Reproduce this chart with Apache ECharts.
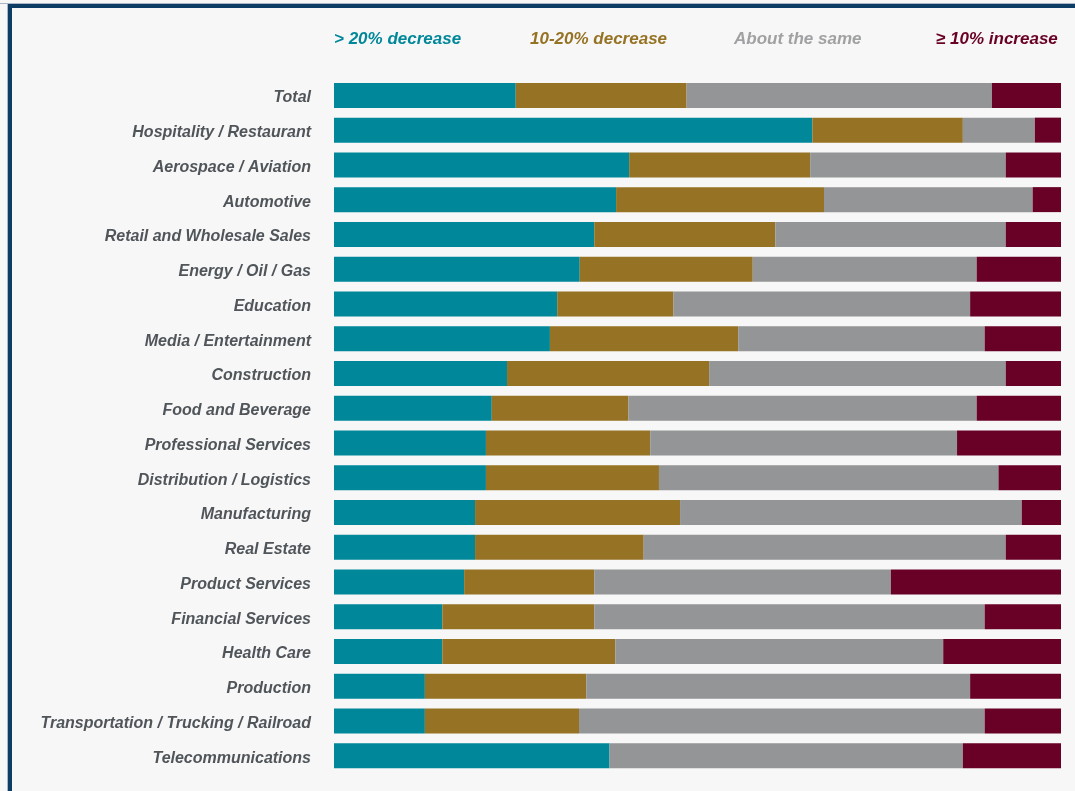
<!DOCTYPE html>
<html>
<head>
<meta charset="utf-8">
<script src="https://cdn.jsdelivr.net/npm/echarts@6/dist/echarts.min.js"></script>
<style>
html,body{margin:0;padding:0;background:#f7f7f7;}
#chart{width:1075px;height:791px;}
</style>
</head>
<body>
<div id="chart"></div>
<script>
const categories = [
  "Total",
  "Hospitality / Restaurant",
  "Aerospace / Aviation",
  "Automotive",
  "Retail and Wholesale Sales",
  "Energy / Oil / Gas",
  "Education",
  "Media / Entertainment",
  "Construction",
  "Food and Beverage",
  "Professional Services",
  "Distribution / Logistics",
  "Manufacturing",
  "Real Estate",
  "Product Services",
  "Financial Services",
  "Health Care",
  "Production",
  "Transportation / Trucking / Railroad",
  "Telecommunications"
];
const seriesNames = ["> 20% decrease", "10-20% decrease", "About the same", "\u2265 10% increase"];
const decreaseOver20 = [25.0, 65.8, 40.6, 38.8, 35.8, 33.8, 30.7, 29.7, 23.8, 21.7, 20.9, 20.9, 19.4, 19.4, 17.9, 14.9, 14.9, 12.5, 12.5, 37.9];
const decrease10to20 = [23.5, 20.7, 24.9, 28.6, 24.9, 23.8, 16.0, 25.9, 27.8, 18.8, 22.6, 23.8, 28.2, 23.2, 17.9, 20.9, 23.8, 22.2, 21.2, 0];
const aboutSame      = [42.0, 9.9, 26.9, 28.7, 31.7, 30.8, 40.8, 33.9, 40.8, 47.9, 42.2, 46.7, 47.0, 49.8, 40.8, 53.7, 45.1, 52.8, 55.8, 48.6];
const increase10     = [9.5, 3.6, 7.6, 3.9, 7.6, 11.6, 12.5, 10.5, 7.6, 11.6, 14.3, 8.6, 5.4, 7.6, 23.4, 10.5, 16.2, 12.5, 10.5, 13.5];

const colors = ["#008799", "#967324", "#949596", "#690026"];
const legendColors = ["#008799", "#967324", "#a0a1a3", "#690026"];
const values = [decreaseOver20, decrease10to20, aboutSame, increase10];
const legendLefts = [334, 530, 734, 936];

const chart = echarts.init(document.getElementById('chart'));
const legendFont = "'Liberation Sans', Arial, sans-serif";

const option = {
  backgroundColor: '#f7f7f7',
  animation: false,
  color: colors,
  grid: { left: 334, right: 14, top: 78, bottom: 18, containLabel: false },
  xAxis: { type: 'value', min: 0, max: 100, show: false },
  yAxis: {
    type: 'category',
    data: categories,
    inverse: true,
    axisLine: { show: false },
    axisTick: { show: false },
    splitLine: { show: false },
    axisLabel: {
      margin: 23,
      color: '#50555a',
      fontSize: 16,
      fontWeight: 'bold',
      fontStyle: 'italic',
      fontFamily: "'Liberation Sans', Arial, sans-serif",
      verticalAlign: 'top',
      lineHeight: 5
    }
  },
  legend: seriesNames.map((n, i) => ({
    data: [n],
    left: legendLefts[i],
    top: 31,
    itemWidth: 0,
    itemHeight: 0,
    icon: 'rect',
    padding: 0,
    selectedMode: false,
    textStyle: {
      color: legendColors[i],
      fontSize: 17,
      fontWeight: 'bold',
      fontStyle: 'italic',
      fontFamily: legendFont,
      padding: [0, 0, 0, -5]
    }
  })),
  series: seriesNames.map((n, i) => ({
    name: n,
    type: 'bar',
    stack: 'all',
    barWidth: 25,
    data: values[i],
    itemStyle: { color: colors[i] },
    emphasis: { disabled: true }
  })),
  graphic: [
    { type: 'rect', shape: { x: 0, y: 3, width: 1075, height: 1 }, style: { fill: '#a9b7c6' }, silent: true },
    { type: 'rect', shape: { x: 8, y: 4, width: 1067, height: 4 }, style: { fill: '#0d3c64' }, silent: true },
    { type: 'rect', shape: { x: 7, y: 4, width: 1, height: 787 }, style: { fill: '#a9b7c6' }, silent: true },
    { type: 'rect', shape: { x: 8, y: 4, width: 4, height: 787 }, style: { fill: '#0d3c64' }, silent: true }
  ]
};
chart.setOption(option);
</script>
</body>
</html>
